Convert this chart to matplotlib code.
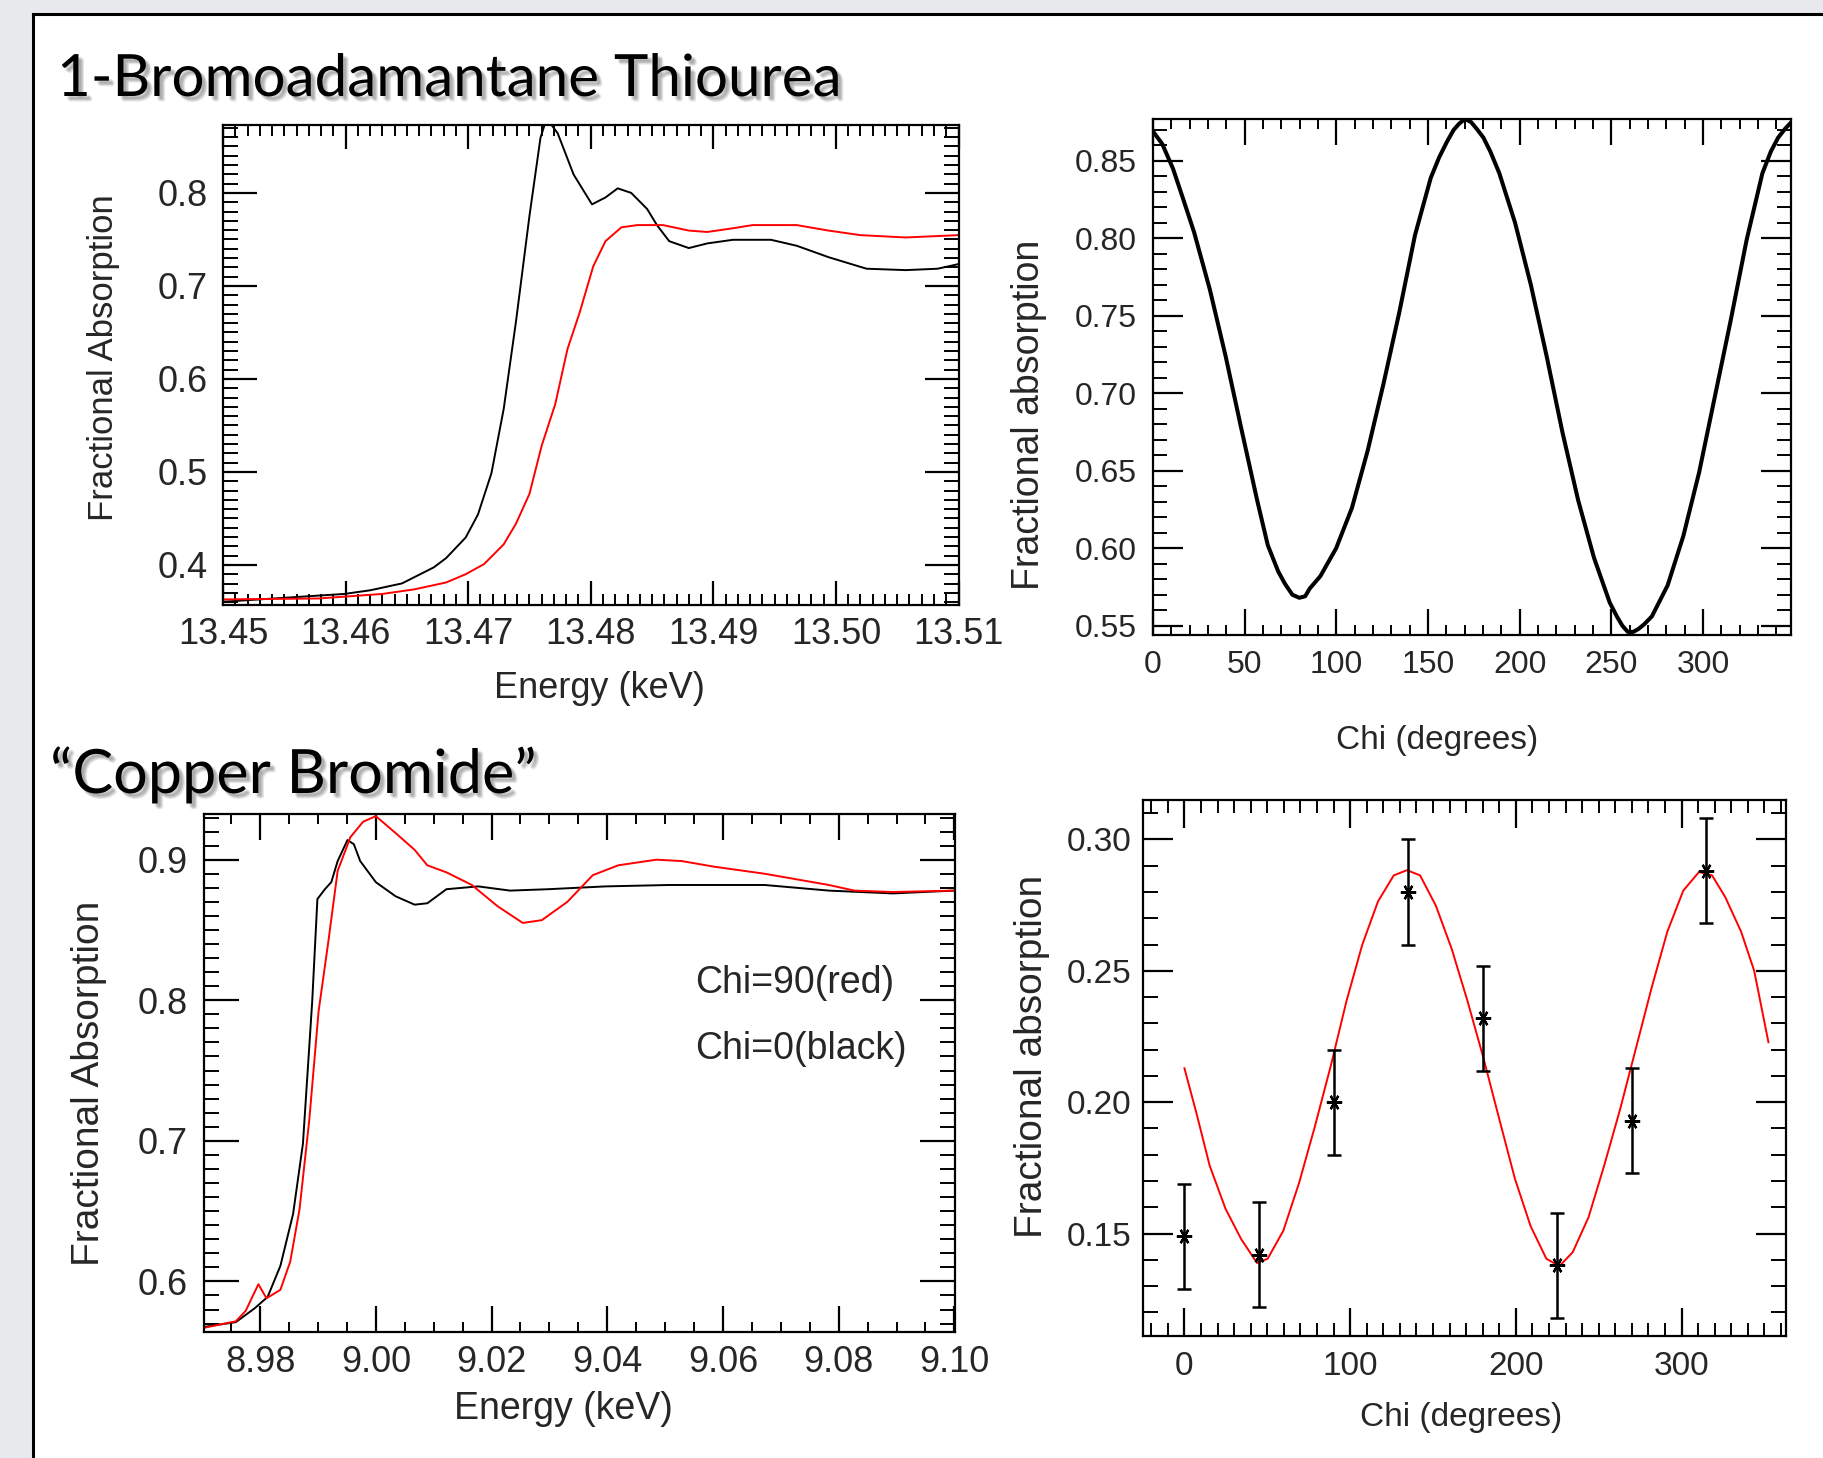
import matplotlib
matplotlib.use("Agg")
import matplotlib.pyplot as plt
import matplotlib.patheffects as pe
from matplotlib.ticker import MultipleLocator, FormatStrFormatter
from matplotlib.lines import Line2D
from matplotlib.patches import Rectangle

plt.rcParams['font.family'] = ['Liberation Sans', 'DejaVu Sans']

# --- 1-Bromoadamantane Thiourea: absorption edge, two orientations
br_energy_black = [13.45, 13.4599, 13.4620, 13.4646, 13.4672, 13.4682, 13.4698, 13.4708,
                   13.4719, 13.4729, 13.4739, 13.4750, 13.4759, 13.4764, 13.4773, 13.4786,
                   13.4801, 13.4812, 13.4822, 13.4833, 13.4846, 13.4854, 13.4864, 13.4880,
                   13.4895, 13.4916, 13.4947, 13.4968, 13.4994, 13.5025, 13.5057, 13.5083, 13.51]
br_abs_black = [0.3605, 0.3689, 0.3728, 0.3802, 0.3975, 0.4074, 0.4296, 0.4543,
                0.4988, 0.5679, 0.6617, 0.7753, 0.8593, 0.880, 0.8642, 0.8198,
                0.7877, 0.7951, 0.8049, 0.8000, 0.7827, 0.7654, 0.7481, 0.7407,
                0.7457, 0.7496, 0.7496, 0.7432, 0.7309, 0.7185, 0.7170, 0.7185, 0.7235]
br_energy_red = [13.45, 13.4578, 13.4630, 13.4656, 13.4682, 13.4698, 13.4713, 13.4729,
                 13.4739, 13.4750, 13.4760, 13.4771, 13.4781, 13.4791, 13.4802, 13.4812,
                 13.4825, 13.4838, 13.4859, 13.4880, 13.4895, 13.4916, 13.4932, 13.4968,
                 13.4994, 13.5020, 13.5057, 13.51]
br_abs_red = [0.363, 0.364, 0.3689, 0.3738, 0.3812, 0.3901, 0.401, 0.4222,
              0.4444, 0.4765, 0.5284, 0.5728, 0.6321, 0.6716, 0.721, 0.7481,
              0.763, 0.7654, 0.7654, 0.7595, 0.758, 0.762, 0.7654, 0.7654,
              0.7595, 0.7546, 0.7521, 0.7546]
br_xticks = [13.45, 13.46, 13.47, 13.48, 13.49, 13.50, 13.51]

# --- 1-Bromoadamantane Thiourea: absorption vs chi
br_chi = [0, 5, 10.9, 16, 22.4, 31, 39.6, 48.2, 56.8, 62.6, 68.3, 72, 76, 79.8, 83, 85.5,
          91.3, 99.9, 108.5, 117.1, 125.7, 134.3, 142.9, 151.5, 156, 160.2, 164, 167,
          170.2, 173.5, 177, 180.2, 184, 188.9, 197.5, 206.1, 214.7, 223.3, 231.9, 240.5,
          249.1, 253, 256, 259, 262, 264.9, 268, 272.1, 280.7, 289.3, 297.9, 306.5, 315.1,
          323.8, 332.4, 337, 341, 345, 348.2]
br_chi_abs = [0.869, 0.861, 0.845, 0.827, 0.804, 0.767, 0.724, 0.677, 0.631, 0.602, 0.585,
              0.577, 0.570, 0.568, 0.569, 0.574, 0.582, 0.600, 0.626, 0.663, 0.706, 0.752,
              0.802, 0.839, 0.852, 0.862, 0.870, 0.874, 0.877, 0.875, 0.870, 0.865, 0.856,
              0.842, 0.810, 0.770, 0.724, 0.675, 0.631, 0.594, 0.565, 0.556, 0.550, 0.546,
              0.546, 0.548, 0.551, 0.556, 0.576, 0.608, 0.649, 0.698, 0.747, 0.799, 0.842,
              0.856, 0.865, 0.871, 0.875]

# --- Copper Bromide: absorption edge, Chi=0 (black) and Chi=90 (red)
cu_energy_black = [8.9703, 8.9725, 8.9758, 8.9791, 8.9813, 8.9835, 8.9857, 8.9874, 8.9890,
                   8.9899, 8.9912, 8.9923, 8.9934, 8.9951, 8.9962, 8.9973, 9.0000, 9.0034,
                   9.0067, 9.0089, 9.0122, 9.0177, 9.0232, 9.0298, 9.0397, 9.0507, 9.0672,
                   9.0783, 9.0893, 9.10]
cu_abs_black = [0.5676, 0.5690, 0.571, 0.581, 0.589, 0.611, 0.648, 0.698, 0.799,
                0.872, 0.879, 0.884, 0.899, 0.914, 0.911, 0.899, 0.884, 0.874,
                0.868, 0.869, 0.879, 0.881, 0.878, 0.879, 0.881, 0.882, 0.882,
                0.878, 0.876, 0.878]
cu_energy_red = [8.9703, 8.9758, 8.9775, 8.9797, 8.9811, 8.9835, 8.9852, 8.9868, 8.9885,
                 8.9901, 8.9918, 8.9934, 8.9956, 8.9978, 9.0000, 9.0034, 9.0067, 9.0089,
                 9.0122, 9.0166, 9.0210, 9.0254, 9.0287, 9.0331, 9.0375, 9.0419, 9.0485,
                 9.0529, 9.0585, 9.0672, 9.0783, 9.0827, 9.0893, 9.10]
cu_abs_red = [0.567, 0.5716, 0.579, 0.598, 0.588, 0.594, 0.614, 0.651, 0.715,
              0.792, 0.842, 0.892, 0.916, 0.927, 0.931, 0.919, 0.907, 0.896,
              0.891, 0.882, 0.867, 0.855, 0.857, 0.870, 0.889, 0.896, 0.900,
              0.899, 0.895, 0.890, 0.882, 0.878, 0.877, 0.878]

# --- Copper Bromide: measured points with error bars and fitted curve
cu_chi_pts = [0, 45, 90, 135, 180, 225, 270, 315]
cu_abs_pts = [0.149, 0.142, 0.200, 0.280, 0.232, 0.138, 0.193, 0.288]
cu_abs_err = [0.02, 0.02, 0.02, 0.02, 0.02, 0.02, 0.02, 0.02]
cu_fit_chi = [0, 7.3, 15.2, 24.8, 34.3, 43.8, 50.2, 59.7, 69.2, 78.7, 88.3, 97.8, 107.3,
              116.8, 126.3, 134.3, 142.2, 151.7, 161.3, 170.8, 180.3, 189.8, 199.4, 208.9,
              218.4, 226.3, 234.3, 243.8, 253.3, 262.9, 272.4, 281.9, 291.4, 301, 310.5,
              318.4, 326.3, 335.9, 343.8, 352.4]
cu_fit_abs = [0.2129, 0.1957, 0.1759, 0.1594, 0.1478, 0.1388, 0.1404, 0.1511, 0.1693,
              0.1907, 0.2138, 0.2385, 0.2599, 0.2764, 0.2863, 0.2883, 0.2863, 0.2748,
              0.2583, 0.2385, 0.2171, 0.1940, 0.1709, 0.1528, 0.1404, 0.1376, 0.1429,
              0.1561, 0.1759, 0.1973, 0.2204, 0.2435, 0.2649, 0.2805, 0.2876, 0.2863,
              0.2781, 0.2649, 0.2500, 0.2228]

W, H = 1823, 1458
PX = 0.72  # points per pixel at dpi 100
TXT = '#262626'

fig = plt.figure(figsize=(W / 100, H / 100), dpi=100, facecolor='#e8e9ec')
fig.add_artist(Rectangle((33 / W, 0), 1, 1 - 14 / H, transform=fig.transFigure,
                         facecolor='white', edgecolor='none', zorder=0))
fig.add_artist(Line2D([33 / W, 33 / W], [0, 1 - 14 / H], color='k', lw=2.2,
                      transform=fig.transFigure))
fig.add_artist(Line2D([33 / W, 1], [1 - 14 / H, 1 - 14 / H], color='k', lw=2.2,
                      transform=fig.transFigure))


def px_axes(x0, y0, x1, y1):
    return fig.add_axes([x0 / W, 1 - y1 / H, (x1 - x0) / W, (y1 - y0) / H])


def style(ax, xmin, ymin, xlen, ylen, fs, xpad, ypad):
    ax.xaxis.set_minor_locator(MultipleLocator(xmin))
    ax.yaxis.set_minor_locator(MultipleLocator(ymin))
    ax.tick_params(axis='x', which='major', direction='in', top=True, bottom=True,
                   length=xlen[0] * PX, width=1.6, labelsize=fs, pad=xpad * PX,
                   labelcolor=TXT)
    ax.tick_params(axis='x', which='minor', direction='in', top=True, bottom=True,
                   length=xlen[1] * PX, width=1.4)
    ax.tick_params(axis='y', which='major', direction='in', left=True, right=True,
                   length=ylen[0] * PX, width=1.6, labelsize=fs, pad=ypad * PX,
                   labelcolor=TXT)
    ax.tick_params(axis='y', which='minor', direction='in', left=True, right=True,
                   length=ylen[1] * PX, width=1.4)
    for s in ax.spines.values():
        s.set_linewidth(1.6)


def labels(ax, xl, yl, xpos, ypos, xfs, yfs):
    ax.set_xlabel(xl, fontsize=xfs, color=TXT, va='center')
    ax.set_ylabel(yl, fontsize=yfs, color=TXT, va='center')
    ax.xaxis.set_label_coords(*xpos)
    ax.yaxis.set_label_coords(*ypos)


shadow = [pe.SimplePatchShadow(offset=(dx, dy), shadow_rgbFace='k', alpha=0.05)
          for dx, dy in [(2, -2), (3, -3), (2, -3), (3, -2), (4, -4), (3, -4), (4, -3)]]
shadow.append(pe.Normal())

fig.text(57 / W, 1 - 96 / H, '1-Bromoadamantane Thiourea', fontsize=42, family='Lato',
         va='baseline', ha='left', color='k', path_effects=shadow)
fig.text(50 / W, 1 - 793 / H, '\u201cCopper Bromide\u201d', fontsize=44, family='Lato',
         va='baseline', ha='left', color='k', path_effects=shadow)

# top left
ax1 = px_axes(223, 125, 958.5, 605)
ax1.plot(br_energy_black, br_abs_black, color='k', lw=1.4)
ax1.plot(br_energy_red, br_abs_red, color='#ff0000', lw=1.4)
ax1.set_xlim(13.45, 13.51)
ax1.set_ylim(0.357, 0.873)
ax1.set_xticks(br_xticks)
ax1.yaxis.set_major_locator(MultipleLocator(0.1))
ax1.xaxis.set_major_formatter(FormatStrFormatter('%.2f'))
ax1.yaxis.set_major_formatter(FormatStrFormatter('%.1f'))
style(ax1, 0.001, 0.01, (24, 11), (34, 15), 26, 12, 15)
labels(ax1, 'Energy (keV)', 'Fractional Absorption', (0.512, -0.175), (-0.163, 0.515), 26, 25)

# top right
ax2 = px_axes(1153, 119, 1791, 635)
ax2.plot(br_chi, br_chi_abs, color='k', lw=2.9)
ax2.set_xlim(0, 348)
ax2.set_ylim(0.544, 0.877)
ax2.xaxis.set_major_locator(MultipleLocator(50))
ax2.yaxis.set_major_locator(MultipleLocator(0.05))
ax2.yaxis.set_major_formatter(FormatStrFormatter('%.2f'))
style(ax2, 10, 0.01, (26, 10), (30, 14), 23, 15, 16)
labels(ax2, 'Chi (degrees)', 'Fractional absorption', (0.445, -0.205), (-0.194, 0.426), 24, 27)

# bottom left
ax3 = px_axes(204, 814, 955, 1332)
ax3.plot(cu_energy_black, cu_abs_black, color='k', lw=1.4)
ax3.plot(cu_energy_red, cu_abs_red, color='#ff0000', lw=1.4)
ax3.set_xlim(8.9703, 9.1001)
ax3.set_ylim(0.564, 0.9325)
ax3.xaxis.set_major_locator(MultipleLocator(0.02))
ax3.yaxis.set_major_locator(MultipleLocator(0.1))
ax3.xaxis.set_major_formatter(FormatStrFormatter('%.2f'))
ax3.yaxis.set_major_formatter(FormatStrFormatter('%.1f'))
style(ax3, 0.005, 0.01, (26, 10), (35, 15), 26, 13, 16)
labels(ax3, 'Energy (keV)', 'Fractional Absorption', (0.478, -0.149), (-0.153, 0.48), 27, 28)
ax3.text(9.0552, 0.812, 'Chi=90(red)', fontsize=27, color=TXT, ha='left', va='center')
ax3.text(9.0552, 0.765, 'Chi=0(black)', fontsize=27, color=TXT, ha='left', va='center')

# bottom right
ax4 = px_axes(1143, 800, 1786, 1336)
ax4.plot(cu_fit_chi, cu_fit_abs, color='#ff0000', lw=1.4)
ax4.errorbar(cu_chi_pts, cu_abs_pts, yerr=cu_abs_err, fmt='none', ecolor='k',
             elinewidth=1.8, capsize=5, capthick=1.8)
ax4.plot(cu_chi_pts, cu_abs_pts, linestyle='none', marker=(6, 2, 30), ms=11,
         mec='k', mew=1.6, color='k')
ax4.set_xlim(-25, 363)
ax4.set_ylim(0.111, 0.315)
ax4.xaxis.set_major_locator(MultipleLocator(100))
ax4.yaxis.set_major_locator(MultipleLocator(0.05))
ax4.yaxis.set_major_formatter(FormatStrFormatter('%.2f'))
style(ax4, 10, 0.01, (28, 13), (30, 15), 24, 15, 12)
labels(ax4, 'Chi (degrees)', 'Fractional absorption', (0.494, -0.152), (-0.173, 0.521), 24, 28)

fig.savefig('out.png', dpi=100, facecolor=fig.get_facecolor())
